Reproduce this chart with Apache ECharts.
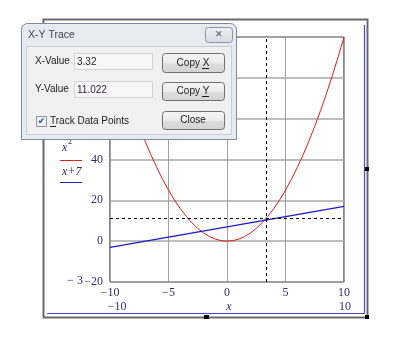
<!DOCTYPE html>
<html><head><meta charset="utf-8">
<script src="https://cdn.jsdelivr.net/npm/echarts@6/dist/echarts.min.js"></script>
<style>html,body{margin:0;padding:0;background:#fff}#c{width:400px;height:339px}</style>
</head><body><div id="c"></div>
<script>
// ---- data ----
const xVals = [-10,-9.5,-9,-8.5,-8,-7.5,-7,-6.5,-6,-5.5,-5,-4.5,-4,-3.5,-3,-2.5,-2,-1.5,-1,-0.5,0,0.5,1,1.5,2,2.5,3,3.5,4,4.5,5,5.5,6,6.5,7,7.5,8,8.5,9,9.5,10];
const ySquare = [100,90.25,81,72.25,64,56.25,49,42.25,36,30.25,25,20.25,16,12.25,9,6.25,4,2.25,1,0.25,0,0.25,1,2.25,4,6.25,9,12.25,16,20.25,25,30.25,36,42.25,49,56.25,64,72.25,81,90.25,100];
const lineX = [-10,10];
const lineY = [-3,17];
const traceX = 3.32;
const traceY = 11.022;
const xTicks = [-10,-5,0,5,10];
const yTicks = [-20,0,20,40,60,80,100];
const seriesNames = ['x²','x+7'];

const chart = echarts.init(document.getElementById('c'), null, {renderer:'canvas'});
const fmt = v => String(v).replace('-', '\u2212');
const serif = '"Liberation Serif", "DejaVu Serif", serif';
const sans = '"Liberation Sans", Arial, sans-serif';
const numColor = '#2e2e6e';
const uiFont = '10px ' + sans;

function btn(x, y, w, h, label, ulx, ulw, uly) {
  const els = [
    {type:'rect', z:100, shape:{x:x+0.5,y:y+0.5,width:w,height:h,r:3},
     style:{fill:new echarts.graphic.LinearGradient(0,0,0,1,[{offset:0,color:'#f6f6f6'},{offset:0.5,color:'#ebebeb'},{offset:0.55,color:'#dddddd'},{offset:1,color:'#d2d2d2'}]), stroke:'#707070', lineWidth:1}},
    {type:'text', z:101, style:{text:label, x:x+w/2, y:y+h/2+0.5, align:'center', verticalAlign:'middle', font:uiFont, fill:'#1a1a1a'}}
  ];
  if (ulw) els.push({type:'line', z:101, shape:{x1:ulx,y1:uly+0.5,x2:ulx+ulw,y2:uly+0.5}, style:{stroke:'#1a1a1a', lineWidth:1}});
  return els;
}

const graphics = [
  // outer frame
  {type:'rect', shape:{x:43.5,y:19.5,width:324,height:298}, style:{fill:'none', stroke:'#6a6a6a', lineWidth:2}},
  {type:'line', shape:{x1:364.5,y1:25,x2:364.5,y2:313.5}, style:{stroke:'#4a4ac0', lineWidth:1.2}},
  {type:'line', shape:{x1:47,y1:313.5,x2:364.5,y2:313.5}, style:{stroke:'#4a4ac0', lineWidth:1.2}},
  {type:'rect', shape:{x:365,y:167,width:4,height:4}, style:{fill:'#000'}},
  {type:'rect', shape:{x:204,y:315,width:5,height:4}, style:{fill:'#000'}},
  {type:'rect', shape:{x:365,y:315,width:4,height:4}, style:{fill:'#000'}},
  // axis range labels
  {type:'text', style:{text:'x', x:229, y:307, align:'center', verticalAlign:'middle', font:'italic 12px '+serif, fill:numColor}},
  {type:'text', style:{text:'\u221210', x:117, y:307, align:'center', verticalAlign:'middle', font:'12px '+serif, fill:numColor}},
  {type:'text', style:{text:'10', x:345, y:307, align:'center', verticalAlign:'middle', font:'12px '+serif, fill:numColor}},
  {type:'text', style:{text:'\u2212 3', x:75, y:281, align:'center', verticalAlign:'middle', font:'12px '+serif, fill:numColor}},
  // legend
  {type:'text', style:{text:'x', x:62, y:148, align:'left', verticalAlign:'middle', font:'italic 12px '+serif, fill:numColor}},
  {type:'text', style:{text:'2', x:68, y:142, align:'left', verticalAlign:'middle', font:'8px '+serif, fill:numColor}},
  {type:'line', shape:{x1:60,y1:160.5,x2:82,y2:160.5}, style:{stroke:'#e02020', lineWidth:1}},
  {type:'text', style:{text:'x+7', x:62, y:172, align:'left', verticalAlign:'middle', font:'italic 12px '+serif, fill:numColor}},
  {type:'line', shape:{x1:60,y1:182.5,x2:82,y2:182.5}, style:{stroke:'#2020c0', lineWidth:1}},
  // dialog
  {type:'rect', z:100, shape:{x:21.5,y:23.5,width:215,height:116,r:[6,6,0,0]}, style:{fill:'#e6ebf1', stroke:'#7f8a98', lineWidth:1}},
  {type:'rect', z:100, shape:{x:26.5,y:46.5,width:205,height:88}, style:{fill:'#f0f0f0', stroke:'#c8ced6', lineWidth:1}},
  {type:'text', z:101, style:{text:'X-Y Trace', x:28, y:35, align:'left', verticalAlign:'middle', font:'10.5px '+sans, fill:'#3e4652'}},
  {type:'rect', z:101, shape:{x:205.5,y:27.5,width:27,height:15,r:3}, style:{fill:new echarts.graphic.LinearGradient(0,0,0,1,[{offset:0,color:'#eef1f5'},{offset:1,color:'#d6dce4'}]), stroke:'#8c96a4', lineWidth:1}},
  {type:'text', z:102, style:{text:'\u2715', x:219, y:35, align:'center', verticalAlign:'middle', font:'bold 9px '+sans, fill:'#6d7580'}},
  {type:'text', z:101, style:{text:'X-Value', x:35, y:61, align:'left', verticalAlign:'middle', font:uiFont, fill:'#222'}},
  {type:'rect', z:101, shape:{x:74.5,y:53.5,width:78,height:16}, style:{fill:'#f6f6f6', stroke:'#d4d4d4', lineWidth:1}},
  {type:'text', z:102, style:{text:String(traceX), x:77, y:62, align:'left', verticalAlign:'middle', font:uiFont, fill:'#222'}},
  {type:'text', z:101, style:{text:'Y-Value', x:35, y:89, align:'left', verticalAlign:'middle', font:uiFont, fill:'#222'}},
  {type:'rect', z:101, shape:{x:74.5,y:81.5,width:78,height:16}, style:{fill:'#f6f6f6', stroke:'#d4d4d4', lineWidth:1}},
  {type:'text', z:102, style:{text:String(traceY), x:77, y:90, align:'left', verticalAlign:'middle', font:uiFont, fill:'#2a1e3a'}},
  ...btn(162, 53, 62, 19, 'Copy X', 202, 7, 68),
  ...btn(162, 82, 62, 18, 'Copy Y', 202, 7, 96),
  ...btn(162, 111, 62, 18, 'Close', 0, 0, 0),
  {type:'rect', z:101, shape:{x:36.5,y:116.5,width:10,height:10}, style:{fill:'#eef3f9', stroke:'#8e8f8f', lineWidth:1}},
  {type:'text', z:102, style:{text:'\u2714', x:41.5, y:121.5, align:'center', verticalAlign:'middle', font:'9px "DejaVu Sans", sans-serif', fill:'#2b4b8c'}},
  {type:'text', z:101, style:{text:'Track Data Points', x:50, y:121, align:'left', verticalAlign:'middle', font:uiFont, fill:'#222'}},
  {type:'line', z:101, shape:{x1:50,y1:126.5,x2:56,y2:126.5}, style:{stroke:'#222', lineWidth:1}}
];

chart.setOption({
  animation:false,
  backgroundColor:'#ffffff',
  grid:{left:110, right:56, top:37, bottom:57, show:true, borderColor:'#111', borderWidth:1, backgroundColor:'transparent'},
  xAxis:{type:'value', min:xTicks[0], max:xTicks[xTicks.length-1], interval:5,
    axisLine:{show:false}, axisTick:{show:false},
    splitLine:{show:true, lineStyle:{color:'#a0a0a0', width:1}},
    axisLabel:{formatter:fmt, color:numColor, fontFamily:serif, fontSize:12, margin:5}},
  yAxis:{type:'value', min:yTicks[0], max:yTicks[yTicks.length-1], interval:20,
    axisLine:{show:false}, axisTick:{show:false},
    splitLine:{show:true, lineStyle:{color:'#a8a8a8', width:1.5}},
    axisLabel:{formatter:fmt, color:numColor, fontFamily:serif, fontSize:12, margin:7}},
  series:[
    {name:seriesNames[0], type:'line', data:xVals.map((x,i)=>[x,ySquare[i]]), showSymbol:false, symbol:'none',
     lineStyle:{color:'#e01818', width:1}, z:3,
     markLine:{silent:true, symbol:'none', label:{show:false}, animation:false,
       lineStyle:{color:'#000', type:[3,3], width:1},
       data:[{xAxis:traceX},{yAxis:traceY}]}},
    {name:seriesNames[1], type:'line', data:lineX.map((x,i)=>[x,lineY[i]]), showSymbol:false, symbol:'none',
     lineStyle:{color:'#1a1ac8', width:1.3}, z:4}
  ],
  graphic:graphics
});
</script></body></html>
